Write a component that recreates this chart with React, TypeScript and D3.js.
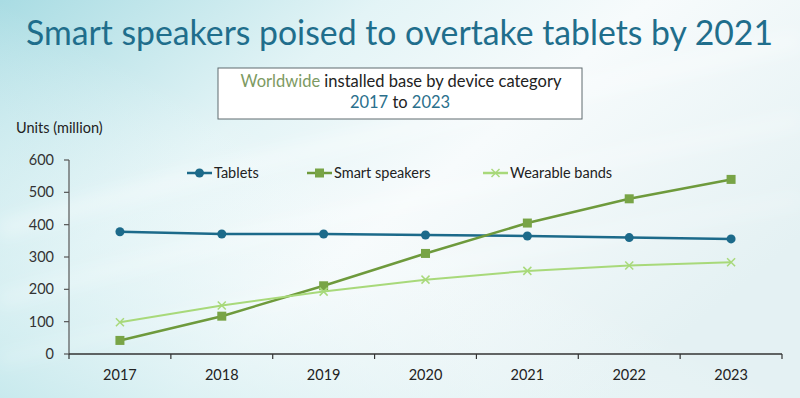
import React from 'react'
import * as d3 from 'd3'

const years = ['2017', '2018', '2019', '2020', '2021', '2022', '2023']
const tablets = [378, 371, 371, 368, 365, 360, 356]
const smartSpeakers = [42, 117, 211, 311, 405, 480, 540]
const wearableBands = [98, 150, 193, 230, 257, 274, 284]
const yTicks = [0, 100, 200, 300, 400, 500, 600]

const seriesNames = ['Tablets', 'Smart speakers', 'Wearable bands']
const seriesColors = ['#1c6a8a', '#6e9a3c', '#a8d97a']
const markerColors = ['#1c6a8a', '#78a446', '#a8d97a']

const width = 800
const height = 398
const font = 'Lato, "Open Sans", sans-serif'

const Marker = ({ kind, x, y, color }: { kind: number; x: number; y: number; color: string }) => {
  if (kind === 0) return <circle cx={x} cy={y} r={4.5} fill={color} />
  if (kind === 1) return <rect x={x - 4.5} y={y - 4.5} width={9} height={9} fill={color} />
  return (
    <g stroke={color} strokeWidth={1.5}>
      <line x1={x - 4} y1={y - 4} x2={x + 4} y2={y + 4} />
      <line x1={x - 4} y1={y + 4} x2={x + 4} y2={y - 4} />
    </g>
  )
}

const App = () => {
  const x = d3.scaleBand().domain(years).range([69, 782])
  const y = d3.scaleLinear().domain([0, 600]).range([354, 160])
  const cx = (yr: string) => (x(yr) as number) + x.bandwidth() / 2

  const series = [tablets, smartSpeakers, wearableBands]
  const line = d3
    .line<number>()
    .x((_, i) => cx(years[i]))
    .y((d) => y(d))

  const legendX = [187, 307, 483]
  const legendY = 173

  return (
    <svg width={width} height={height} style={{ position: 'absolute', left: 0, top: 0 }} fontFamily={font}>
      <defs>
        <linearGradient id="bg" x1="0" y1="0" x2="1" y2="0.6">
          <stop offset="0" stopColor="#a9dce3" />
          <stop offset="0.35" stopColor="#e3f4f6" />
          <stop offset="0.6" stopColor="#f7fbfc" />
          <stop offset="1" stopColor="#e4f1f3" />
        </linearGradient>
        <linearGradient id="bg2" x1="0" y1="1" x2="0.5" y2="0.5">
          <stop offset="0" stopColor="#c4e8ec" stopOpacity={0.9} />
          <stop offset="1" stopColor="#ffffff" stopOpacity={0} />
        </linearGradient>
        <filter id="blur" x="-10%" y="-50%" width="120%" height="200%">
          <feGaussianBlur stdDeviation="8" />
        </filter>
      </defs>
      <rect width={width} height={height} fill="url(#bg)" />
      <rect width={width} height={height} fill="url(#bg2)" />
      <g filter="url(#blur)" fill="none" stroke="#ffffff">
        <path d="M0,230 C200,170 450,120 800,40" strokeOpacity={0.35} strokeWidth={16} />
        <path d="M0,300 C250,230 500,180 800,120" strokeOpacity={0.3} strokeWidth={12} />
        <path d="M0,360 C250,300 500,250 800,200" strokeOpacity={0.25} strokeWidth={10} />
      </g>

      <text x={26} y={45} fontSize={35} fill="#1f6e8c" textLength={747} lengthAdjust="spacingAndGlyphs">
        Smart speakers poised to overtake tablets by 2021
      </text>

      <rect x={218} y={68} width={364} height={51} fill="#ffffff" stroke="#5f6b6e" strokeWidth={1} />
      <text x={401} y={87} fontSize={16.5} textAnchor="middle" fill="#222">
        <tspan fill="#7d9a62">Worldwide</tspan> installed base by device category
      </text>
      <text x={400} y={108} fontSize={16.5} textAnchor="middle" fill="#222">
        <tspan fill="#2a6f8c">2017</tspan> to <tspan fill="#2a6f8c">2023</tspan>
      </text>

      <text x={16} y={133} fontSize={14.5} fill="#222">Units (million)</text>

      {/* y axis */}
      <line x1={69} x2={69} y1={y(600)} y2={y(0)} stroke="#555" strokeWidth={1.2} />
      {yTicks.map((t) => (
        <g key={t}>
          <line x1={64} x2={69} y1={y(t)} y2={y(t)} stroke="#555" strokeWidth={1.2} />
          <text x={54} y={y(t)} dy="0.35em" fontSize={14.5} textAnchor="end" fill="#333">
            {t}
          </text>
        </g>
      ))}

      {/* x axis */}
      <line x1={69} x2={782} y1={y(0)} y2={y(0)} stroke="#333" strokeWidth={1.3} />
      {years.map((yr) => (
        <g key={yr}>
          <line x1={x(yr)} x2={x(yr)} y1={y(0)} y2={y(0) + 5} stroke="#333" strokeWidth={1.2} />
          <text x={cx(yr)} y={380} fontSize={14.5} textAnchor="middle" fill="#222">
            {yr}
          </text>
        </g>
      ))}
      <line x1={782} x2={782} y1={y(0)} y2={y(0) + 5} stroke="#333" strokeWidth={1.2} />

      {/* series */}
      {series.map((vals, si) => (
        <g key={seriesNames[si]}>
          <path d={line(vals) ?? ''} fill="none" stroke={seriesColors[si]} strokeWidth={si === 2 ? 2 : 2.5} />
          {vals.map((v, i) => (
            <Marker key={i} kind={si} x={cx(years[i])} y={y(v)} color={markerColors[si]} />
          ))}
        </g>
      ))}

      {/* legend */}
      {seriesNames.map((name, si) => (
        <g key={name}>
          <line x1={legendX[si]} x2={legendX[si] + 25} y1={legendY} y2={legendY} stroke={seriesColors[si]} strokeWidth={2.5} />
          <Marker kind={si} x={legendX[si] + 12.5} y={legendY} color={markerColors[si]} />
          <text x={legendX[si] + 27} y={legendY} dy="0.35em" fontSize={14.5} fill="#222">
            {name}
          </text>
        </g>
      ))}
    </svg>
  )
}

export default App
